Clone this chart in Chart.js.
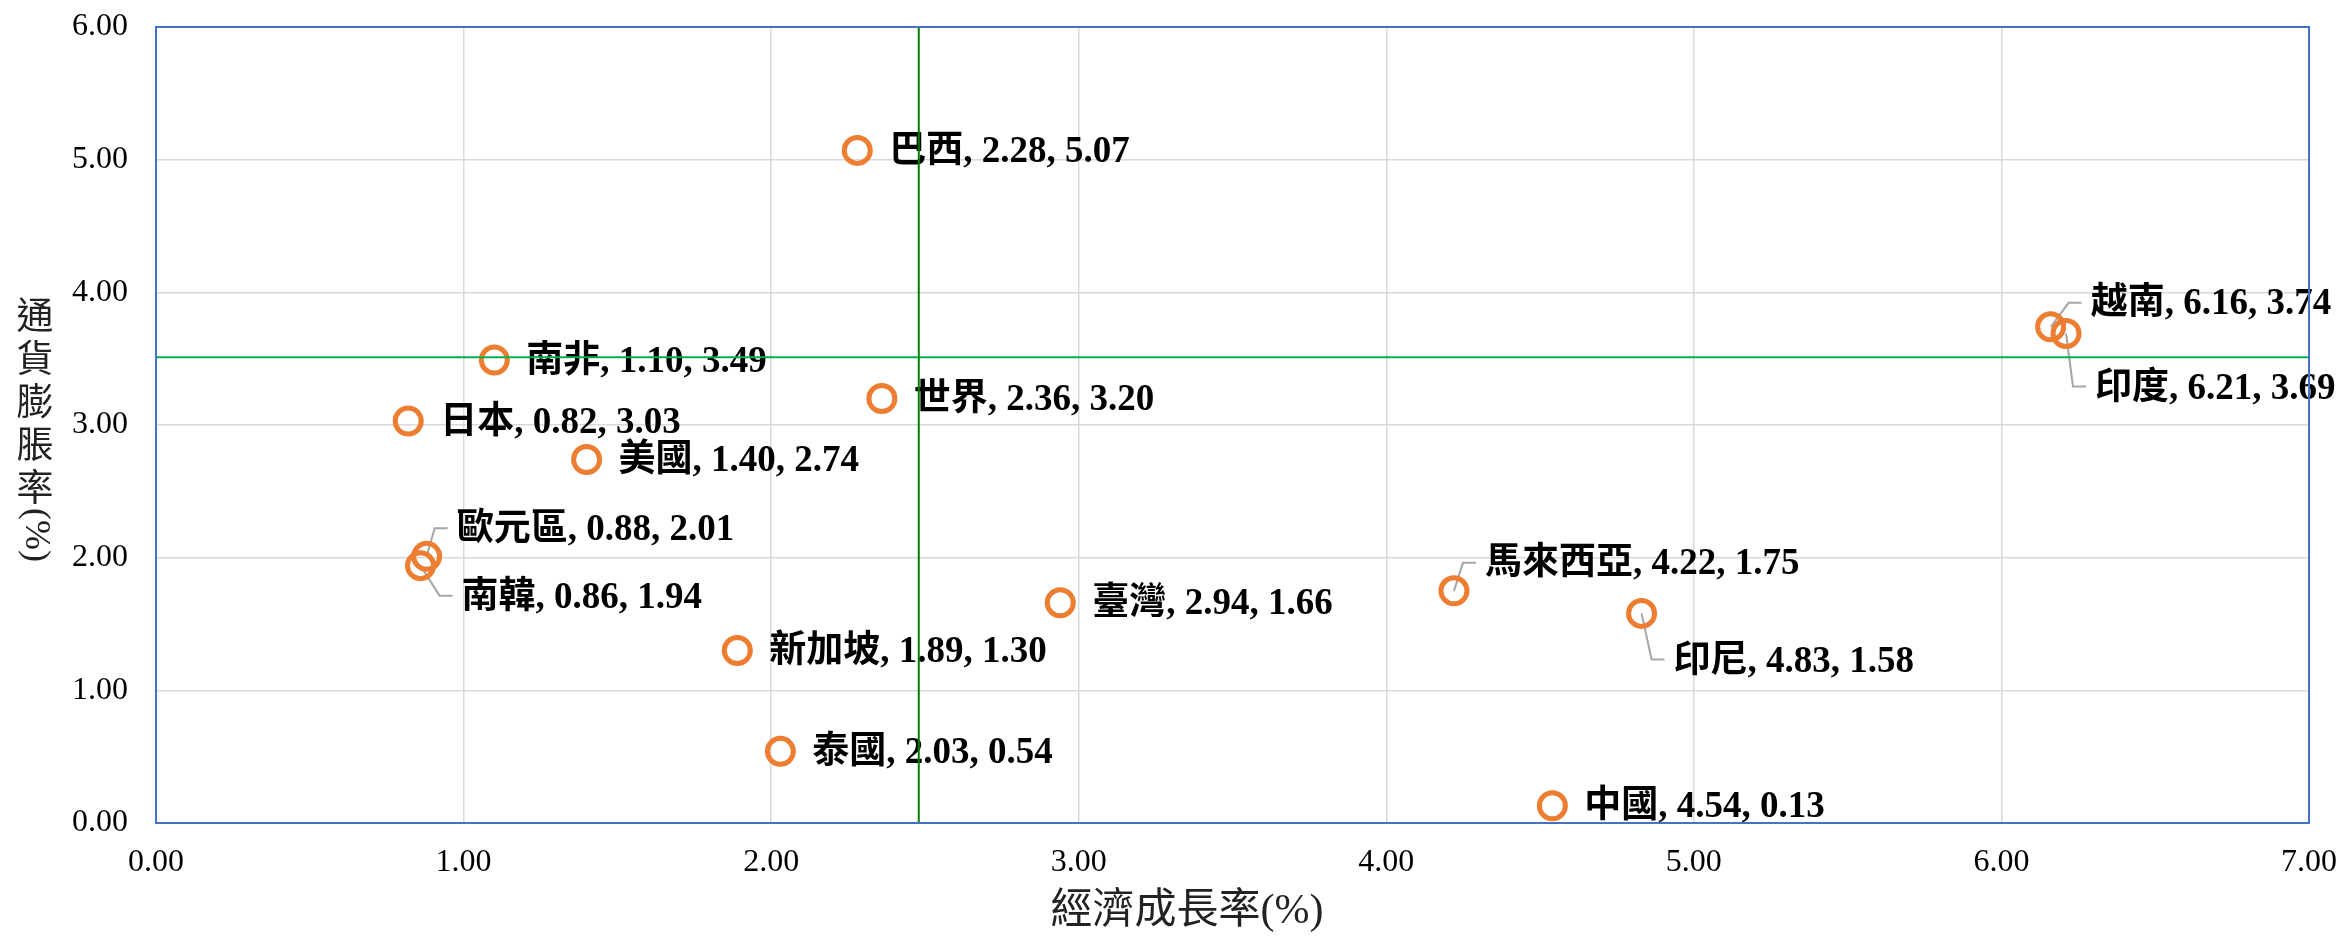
<!DOCTYPE html>
<html>
<head>
<meta charset="utf-8">
<script src="https://cdn.jsdelivr.net/npm/chart.js@4.4.0/dist/chart.umd.min.js"></script>
<style>
  html, body { margin: 0; padding: 0; background: #fff; }
  #wrap { width: 2338px; height: 936px; position: relative; }
</style>
</head>
<body>
<div id="wrap"><canvas id="canvas-1"></canvas></div>
<script>
'use strict';

// data
var countries = ['巴西', '越南', '印度', '南非', '世界', '日本', '美國', '歐元區', '南韓', '臺灣', '馬來西亞', '印尼', '新加坡', '泰國', '中國'];
var growth    = [2.28, 6.16, 6.21, 1.10, 2.36, 0.82, 1.40, 0.88, 0.86, 2.94, 4.22, 4.83, 1.89, 2.03, 4.54];
var inflation = [5.07, 3.74, 3.69, 3.49, 3.20, 3.03, 2.74, 2.01, 1.94, 1.66, 1.75, 1.58, 1.30, 0.54, 0.13];
var xTicks = [0, 1, 2, 3, 4, 5, 6, 7];
var yTicks = [0, 1, 2, 3, 4, 5, 6];
var avgGrowth = 2.48;     // vertical green line
var avgInflation = 3.51;  // horizontal green line
var xTitle = '經濟成長率(%)';
var yTitleChars = ['通', '貨', '膨', '脹', '率'];
var yTitleTail = '(%)';

// labels that are pulled away from their point with a leader line (pixel offsets)
var callouts = {
    '越南':   { dx: 40, dy: -22 },
    '印度':   { dx: 29, dy: 56 },
    '歐元區': { dx: 30, dy: -26 },
    '南韓':   { dx: 41, dy: 33 },
    '馬來西亞': { dx: 31, dy: -26 },
    '印尼':   { dx: 32, dy: 49 }
};

var points = growth.map(function (g, i) {
    return { x: g, y: inflation[i], name: countries[i] };
});

var labelPlugin = {
    id: 'pointLabels',
    beforeDatasetsDraw: function (chart) {
        var ctx = chart.ctx;
        var xs = chart.scales.x, ys = chart.scales.y;
        ctx.save();
        ctx.font = 'bold 37px "Liberation Serif", "Noto Sans CJK TC", serif';
        ctx.textBaseline = 'middle';
        ctx.textAlign = 'left';
        points.forEach(function (p) {
            var px = xs.getPixelForValue(p.x);
            var py = ys.getPixelForValue(p.y);
            var c = callouts[p.name];
            var tx = px + 32, ty = py + 2;
            if (c) {
                tx = px + c.dx;
                ty = py + c.dy;
                var ly = ty + (c.dy < 0 ? -2 : -3);
                ctx.strokeStyle = '#a6a6a6';
                ctx.lineWidth = 2;
                ctx.beginPath();
                ctx.moveTo(px, py);
                ctx.lineTo(tx - 22, ly);
                ctx.lineTo(tx - 9, ly);
                ctx.stroke();
            }
            ctx.fillStyle = '#000';
            ctx.fillText(p.name + ', ' + p.x.toFixed(2) + ', ' + p.y.toFixed(2), tx, ty);
        });
        ctx.restore();
    },
    afterDraw: function (chart) {
        var ctx = chart.ctx;
        var a = chart.chartArea;
        ctx.save();
        // plot frame
        ctx.strokeStyle = '#4472c4';
        ctx.lineWidth = 2;
        ctx.strokeRect(a.left, a.top, a.right - a.left, a.bottom - a.top);

        // x title
        ctx.fillStyle = '#222';
        ctx.font = '42px "Liberation Serif", "Noto Sans CJK TC", serif';
        ctx.textAlign = 'center';
        ctx.textBaseline = 'middle';
        ctx.fillText(xTitle, 1187, 912);

        // y title: stacked upright characters, then rotated "(%)"
        ctx.font = '37px "Noto Sans CJK TC", sans-serif';
        var cy = 315;
        yTitleChars.forEach(function (ch) {
            ctx.fillText(ch, 35, cy);
            cy += 43;
        });
        ctx.translate(35, cy + 5);
        ctx.rotate(Math.PI / 2);
        ctx.font = '36px "Liberation Serif", serif';
        ctx.fillText(yTitleTail, 0, 0);
        ctx.restore();
    }
};

var ctx = document.getElementById('canvas-1');
var chart = new Chart(ctx, {
    type: 'scatter',
    data: {
        datasets: [
            {
                type: 'line',
                data: [{ x: avgGrowth, y: yTicks[0] }, { x: avgGrowth, y: yTicks[yTicks.length - 1] }],
                borderColor: '#008000',
                borderWidth: 2,
                pointRadius: 0,
                fill: false
            },
            {
                type: 'line',
                data: [{ x: xTicks[0], y: avgInflation }, { x: xTicks[xTicks.length - 1], y: avgInflation }],
                borderColor: '#00b050',
                borderWidth: 2,
                pointRadius: 0,
                fill: false
            },
            {
                label: 'countries',
                data: points,
                pointRadius: 13,
                pointHoverRadius: 13,
                pointBorderWidth: 5,
                pointBackgroundColor: 'rgba(0,0,0,0)',
                pointBorderColor: '#ed7d31'
            }
        ]
    },
    options: {
        responsive: true,
        maintainAspectRatio: false,
        devicePixelRatio: 1,
        animation: false,
        events: [],
        layout: { padding: { left: 0, top: 27, right: 29, bottom: 0 } },
        plugins: {
            legend: { display: false },
            tooltip: { enabled: false }
        },
        scales: {
            x: {
                type: 'linear',
                min: xTicks[0],
                max: xTicks[xTicks.length - 1],
                afterFit: function (s) {
                    s.height = 113;
                    s.paddingLeft = 0;
                    s.paddingRight = 0;
                },
                border: { display: false },
                grid: { color: '#d9d9d9', lineWidth: 1.5, drawTicks: false },
                ticks: {
                    stepSize: 1,
                    padding: 20,
                    color: '#000',
                    font: { family: '"Liberation Serif", serif', size: 32 },
                    callback: function (v) { return v.toFixed(2); }
                }
            },
            y: {
                type: 'linear',
                min: yTicks[0],
                max: yTicks[yTicks.length - 1],
                afterFit: function (s) {
                    s.width = 156;
                    s.paddingTop = 0;
                    s.paddingBottom = 0;
                },
                border: { display: false },
                grid: { color: '#d9d9d9', lineWidth: 1.5, drawTicks: false },
                ticks: {
                    stepSize: 1,
                    padding: 28,
                    color: '#000',
                    font: { family: '"Liberation Serif", serif', size: 32 },
                    callback: function (v) { return v.toFixed(2); }
                }
            }
        }
    },
    plugins: [labelPlugin]
});
</script>
</body>
</html>
